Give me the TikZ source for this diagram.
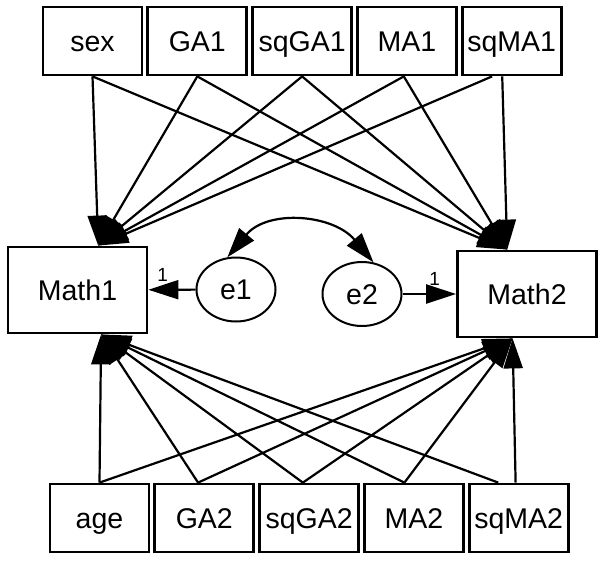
\documentclass[tikz,border=0pt]{standalone}
\usepackage{fontspec}
\setmainfont{Liberation Sans}
\usetikzlibrary{shapes}
\usetikzlibrary{positioning}
\usetikzlibrary{arrows.meta}
\tikzset{
    myvar/.style = {rectangle, line width=2.8pt, draw=black, minimum width=99pt, minimum height=68pt, inner sep=2pt, text height=20.5pt, text depth=0pt, font=\fontsize{28.5}{34}\selectfont},
    mymath/.style = {rectangle, line width=2.8pt, draw=black, minimum width=139pt, minimum height=86pt, inner sep=2pt, text height=20.5pt, text depth=0pt, font=\fontsize{28.5}{34}\selectfont},
    myerr/.style = {ellipse, line width=2pt, draw=black, minimum width=79pt, minimum height=64pt, inner sep=0pt, text height=20.5pt, text depth=0pt, font=\fontsize{28.5}{34}\selectfont},
    mylabel/.style = {font=\fontsize{19}{22}\selectfont, inner sep=1pt},
    edgen/.style = {-{Triangle[length=30pt,width=19pt]}, line width=2.2pt, black}, % regression
    edgec/.style = {{Triangle[length=30pt,width=19pt]}-{Triangle[length=30pt,width=19pt]}, line width=2.2pt, black} % covariance
}

\begin{document}
\begin{tikzpicture}[x=1pt, y=1pt]
  \useasboundingbox (0,0) rectangle (604,-560);
  % predictors, time 1
  \node[myvar] (sex) at (92.5,-41) {sex};
  \node[myvar, right=3pt of sex] (ga1) {GA1};
  \node[myvar, right=3pt of ga1] (sqga1) {sqGA1};
  \node[myvar, right=3pt of sqga1] (ma1) {MA1};
  \node[myvar, right=3pt of ma1] (sqma1) {sqMA1};
  % predictors, time 2
  \node[myvar] (age) at (99.5,-518) {age};
  \node[myvar, right=3pt of age] (ga2) {GA2};
  \node[myvar, right=3pt of ga2] (sqga2) {sqGA2};
  \node[myvar, right=3pt of sqga2] (ma2) {MA2};
  \node[myvar, right=3pt of ma2] (sqma2) {sqMA2};
  % outcomes and errors
  \node[mymath] (m1) at (77.5,-290) {Math1};
  \node[mymath] (m2) at (527,-294) {Math2};
  \node[myerr] (e1) at (236,-289.5) {e1};
  \node[myerr] (e2) at (362,-294) {e2};

  \draw[edgen] (sex.south) -- (m1.65);
  \draw[edgen] (sex.south) -- (m2.114);
  \draw[edgen] (ga1.south) -- (m1.65);
  \draw[edgen] (ga1.south) -- (m2.114);
  \draw[edgen] (sqga1.south) -- (m1.65);
  \draw[edgen] (sqga1.south) -- (m2.114);
  \draw[edgen] (ma1.265) -- (m1.65);
  \draw[edgen] (ma1.265) -- (m2.114);
  \draw[edgen] (sqma1.241) -- (m1.65);
  \draw[edgen] (sqma1.255) -- (m2.114);

  \draw[edgen] (age.north) -- (m1.298);
  \draw[edgen] (age.north) -- (m2.252);
  \draw[edgen] (ga2.100) -- (m1.298);
  \draw[edgen] (ga2.100) -- (m2.252);
  \draw[edgen] (sqga2.100) -- (m1.298);
  \draw[edgen] (sqga2.100) -- (m2.252);
  \draw[edgen] (ma2.105) -- (m1.298);
  \draw[edgen] (ma2.105) -- (m2.252);
  \draw[edgen] (sqma2.120) -- (m1.298);
  \draw[edgen] (sqma2.95) -- (m2.252);

  \draw[edgen] (e1) -- node[mylabel, above=6pt, pos=0.7] (w1) {1} (m1);
  \draw[edgen] (e2) -- node[mylabel, above=6pt, pos=0.6] (w2) {1} (m2);
  \draw[edgec] (e1.105) to[out=50, in=130, looseness=1.1] (e2.70);
\end{tikzpicture}
\end{document}
